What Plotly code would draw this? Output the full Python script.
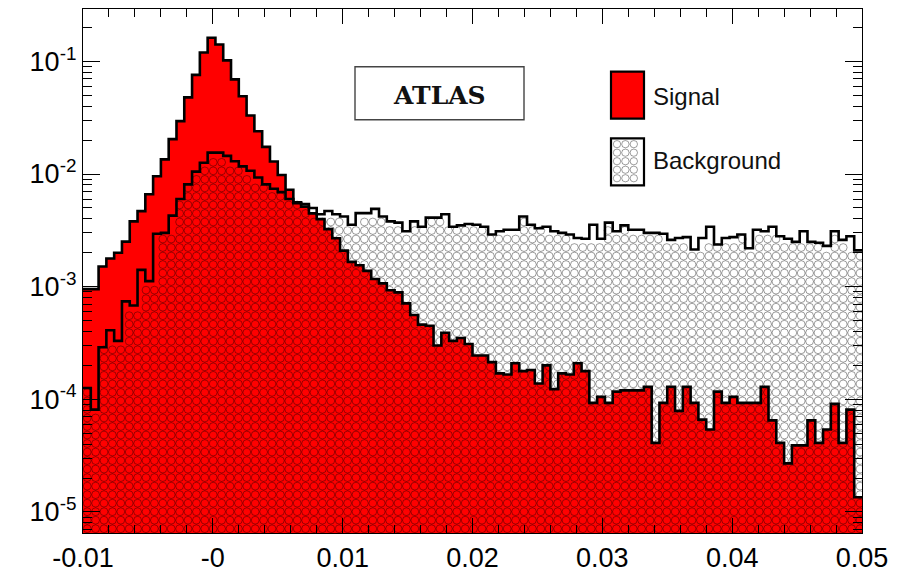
import numpy as np
import plotly.graph_objects as go

# Histogram binning
x_min, x_max, n_bins = -0.01, 0.05, 100

signal = [
    9.5e-4, 9.5e-4, 1.51e-3, 1.78e-3, 2.0e-3, 2.51e-3, 3.8e-3, 4.68e-3, 6.61e-3, 9.55e-3,
    1.35e-2, 2.04e-2, 2.95e-2, 4.79e-2, 7.59e-2, 0.120, 0.162, 0.141, 0.102, 6.92e-2,
    4.9e-2, 3.31e-2, 2.4e-2, 1.74e-2, 1.29e-2, 9.8e-3, 7.24e-3, 5.5e-3, 5.13e-3, 4.47e-3,
    3.98e-3, 3.24e-3, 2.69e-3, 2.09e-3, 1.66e-3, 1.55e-3, 1.38e-3, 1.17e-3, 1.07e-3, 9.3e-4,
    8.9e-4, 7.1e-4, 5.6e-4, 4.6e-4, 4.5e-4, 3.0e-4, 3.9e-4, 3.3e-4, 3.5e-4, 3.1e-4,
    2.45e-4, 2.45e-4, 2.14e-4, 1.7e-4, 1.66e-4, 2.09e-4, 1.78e-4, 1.82e-4, 1.38e-4, 2.0e-4,
    1.23e-4, 1.7e-4, 1.66e-4, 2.09e-4, 1.78e-4, 9.3e-5, 1.05e-4, 9.3e-5, 1.17e-4, 1.2e-4,
    1.2e-4, 1.2e-4, 1.29e-4, 4.1e-5, 9.3e-5, 1.29e-4, 7.9e-5, 1.29e-4, 9.3e-5, 6.6e-5,
    5.4e-5, 1.17e-4, 9.3e-5, 1.05e-4, 9.3e-5, 9.3e-5, 9.3e-5, 1.29e-4, 6.5e-5, 4.1e-5,
    2.7e-5, 3.9e-5, 3.9e-5, 6.5e-5, 4.1e-5, 5.4e-5, 9.1e-5, 4.1e-5, 8.1e-5, 1.35e-5,
]

background = [
    1.26e-4, 8.1e-5, 2.9e-4, 4.1e-4, 3.3e-4, 7.4e-4, 6.8e-4, 1.41e-3, 1.12e-3, 2.95e-3,
    3.0e-3, 4.27e-3, 6.0e-3, 8.1e-3, 1.05e-2, 1.26e-2, 1.55e-2, 1.55e-2, 1.45e-2, 1.3e-2,
    1.17e-2, 1.07e-2, 9.3e-3, 8.1e-3, 7.4e-3, 6.9e-3, 6.0e-3, 5.6e-3, 5.4e-3, 5.0e-3,
    4.4e-3, 4.7e-3, 4.4e-3, 4.2e-3, 3.55e-3, 4.5e-3, 4.5e-3, 4.9e-3, 4.2e-3, 3.8e-3,
    3.7e-3, 3.1e-3, 3.8e-3, 3.4e-3, 4.1e-3, 4.1e-3, 4.4e-3, 3.4e-3, 3.5e-3, 3.6e-3,
    3.55e-3, 3.4e-3, 2.9e-3, 3.1e-3, 3.2e-3, 3.2e-3, 4.2e-3, 3.55e-3, 3.3e-3, 3.4e-3,
    3.1e-3, 3.0e-3, 2.9e-3, 2.7e-3, 2.66e-3, 3.55e-3, 2.66e-3, 3.7e-3, 3.1e-3, 3.5e-3,
    3.2e-3, 3.2e-3, 3.0e-3, 3.0e-3, 2.95e-3, 2.6e-3, 2.7e-3, 2.75e-3, 2.14e-3, 2.7e-3,
    3.4e-3, 2.37e-3, 2.7e-3, 2.75e-3, 2.9e-3, 2.19e-3, 3.2e-3, 3.1e-3, 3.4e-3, 2.8e-3,
    2.66e-3, 2.5e-3, 3.1e-3, 2.5e-3, 2.45e-3, 2.3e-3, 3.1e-3, 2.6e-3, 2.8e-3, 2.1e-3,
]

x_tick_vals = [-0.01, 0.0, 0.01, 0.02, 0.03, 0.04, 0.05]
x_tick_text = ["-0.01", "-0", "0.01", "0.02", "0.03", "0.04", "0.05"]
y_tick_vals = [1e-5, 1e-4, 1e-3, 1e-2, 1e-1]
y_tick_text = ["10<sup>-5</sup>", "10<sup>-4</sup>", "10<sup>-3</sup>",
               "10<sup>-2</sup>", "10<sup>-1</sup>"]
legend_labels = ["Signal", "Background"]
box_label = "ATLAS"

# Canvas / frame geometry (pixels)
W_PX, H_PX = 920, 581
M_L, M_R, M_T, M_B = 83, 58, 8, 38
PLOT_W = W_PX - M_L - M_R
PLOT_H = H_PX - M_T - M_B
y_lo, y_hi = -5.187, -0.535  # log10 range

RED = "#ff0000"
RING = "rgba(0,0,0,0.38)"
FONT = "Liberation Sans, Arial, Helvetica, sans-serif"

signal = np.asarray(signal)
background = np.asarray(background)
edges = np.linspace(x_min, x_max, n_bins + 1)
bw = edges[1] - edges[0]
floor_val = 10 ** (y_lo - 1.0)  # below the visible range, closes filled areas


def px_x(p):
    return (p - M_L) / PLOT_W


def px_y(p):
    return (H_PX - M_B - p) / PLOT_H


def step_polygon(vals):
    xs = np.repeat(edges, 2)[1:-1]
    ys = np.repeat(vals, 2)
    return (np.concatenate([[edges[0]], xs, [edges[-1]]]),
            np.concatenate([[floor_val], ys, [floor_val]]))


fig = go.Figure()

# Signal: solid red filled histogram
sx, sy = step_polygon(signal)
fig.add_trace(go.Scatter(
    x=sx, y=sy, mode="lines", fill="toself", fillcolor=RED,
    line=dict(width=0, color=RED), showlegend=False, hoverinfo="skip",
))

# Background: ring hatch under the background histogram (transparent between rings)
sp_x, sp_y, r_px = 8.4, 8.7, 3.9
dx = sp_x * (x_max - x_min) / PLOT_W
dy = sp_y * (y_hi - y_lo) / PLOT_H
rx = r_px * (x_max - x_min) / PLOT_W
ry = r_px * (y_hi - y_lo) / PLOT_H
log_bkg = np.log10(background)
gx = np.arange(x_min + dx / 2, x_max, dx)
gy = np.arange(y_lo + dy / 2, y_hi, dy)
ring_x, ring_y = [], []
for xv in gx:
    i0 = int(np.clip(np.floor((xv - rx * 0.7 - x_min) / bw), 0, n_bins - 1))
    i1 = int(np.clip(np.floor((xv + rx * 0.7 - x_min) / bw), 0, n_bins - 1))
    lim = log_bkg[i0:i1 + 1].min()
    for yv in gy:
        if yv + ry * 0.5 < lim:
            ring_x.append(xv)
            ring_y.append(10 ** yv)
fig.add_trace(go.Scatter(
    x=ring_x, y=ring_y, mode="markers",
    marker=dict(symbol="circle-open", size=7.8, color=RING, line=dict(width=1)),
    showlegend=False, hoverinfo="skip",
))

# Step outlines
for vals in (background, signal):
    fig.add_trace(go.Scatter(
        x=edges, y=np.append(vals, vals[-1]), mode="lines",
        line=dict(color="black", width=2.6, shape="hv"),
        showlegend=False, hoverinfo="skip",
    ))

shapes = []
annotations = []

# ATLAS label box
shapes.append(dict(type="rect", xref="paper", yref="paper",
                   x0=px_x(355), x1=px_x(524), y0=px_y(121), y1=px_y(67),
                   line=dict(color="#444444", width=1.4), fillcolor="white", layer="above"))
annotations.append(dict(xref="paper", yref="paper", x=px_x(439.5), y=px_y(96),
                        text="<b>%s</b>" % box_label, showarrow=False,
                        xanchor="center", yanchor="middle",
                        font=dict(family="DejaVu Serif, serif", size=25, color="#111111")))

# Legend swatches
sw_x0, sw_x1 = 611, 644
sig_y0, sig_y1 = 72, 120
bkg_y0, bkg_y1 = 140, 188
shapes.append(dict(type="rect", xref="paper", yref="paper",
                   x0=px_x(sw_x0), x1=px_x(sw_x1), y0=px_y(sig_y1), y1=px_y(sig_y0),
                   line=dict(color="black", width=2.2), fillcolor=RED, layer="above"))
shapes.append(dict(type="rect", xref="paper", yref="paper",
                   x0=px_x(sw_x0), x1=px_x(sw_x1), y0=px_y(bkg_y1), y1=px_y(bkg_y0),
                   line=dict(color="black", width=2.2), fillcolor="white", layer="above"))
for cx in np.arange(sw_x0 + 6, sw_x1 - 3, sp_x):
    for cy in np.arange(bkg_y0 + 6, bkg_y1 - 3, sp_y):
        shapes.append(dict(type="circle", xref="paper", yref="paper",
                           x0=px_x(cx - 3.7), x1=px_x(cx + 3.7),
                           y0=px_y(cy + 3.7), y1=px_y(cy - 3.7),
                           line=dict(color="rgba(0,0,0,0.38)", width=1), layer="above"))
annotations.append(dict(xref="paper", yref="paper", x=px_x(651), y=px_y(97),
                        text=legend_labels[0], showarrow=False,
                        xanchor="left", yanchor="middle",
                        font=dict(family=FONT, size=24, color="#111111")))
annotations.append(dict(xref="paper", yref="paper", x=px_x(651), y=px_y(163),
                        text=legend_labels[1], showarrow=False,
                        xanchor="left", yanchor="middle",
                        font=dict(family=FONT, size=24, color="#111111")))

x_minor = [v for v in np.arange(x_min, x_max + 1e-9, 0.002)]
y_minor = [k * 10.0 ** e for e in range(-6, 0) for k in range(2, 10)
           if y_lo < np.log10(k * 10.0 ** e) < y_hi]

fig.update_layout(
    width=W_PX, height=H_PX,
    margin=dict(l=M_L, r=M_R, t=M_T, b=M_B, pad=0),
    paper_bgcolor="white", plot_bgcolor="white",
    showlegend=False,
    shapes=shapes, annotations=annotations,
    xaxis=dict(
        range=[x_min, x_max], tickmode="array", tickvals=x_tick_vals, ticktext=x_tick_text,
        ticks="inside", ticklen=15, tickwidth=1, tickcolor="black",
        showline=True, linecolor="black", linewidth=1.3, mirror="ticks",
        showgrid=False, zeroline=False,
        tickfont=dict(family=FONT, size=27, color="black"),
        minor=dict(tickmode="array", tickvals=x_minor, ticks="inside", ticklen=8,
                   tickwidth=1, tickcolor="black", showgrid=False),
    ),
    yaxis=dict(
        type="log", range=[y_lo, y_hi], tickmode="array",
        tickvals=y_tick_vals, ticktext=y_tick_text,
        ticks="inside", ticklen=17, tickwidth=1, tickcolor="black",
        showline=True, linecolor="black", linewidth=1.3, mirror="ticks",
        showgrid=False, zeroline=False,
        tickfont=dict(family=FONT, size=27, color="black"),
        minor=dict(tickmode="array", tickvals=y_minor, ticks="inside", ticklen=9,
                   tickwidth=1, tickcolor="black", showgrid=False),
    ),
)

fig.write_html("out.html")
